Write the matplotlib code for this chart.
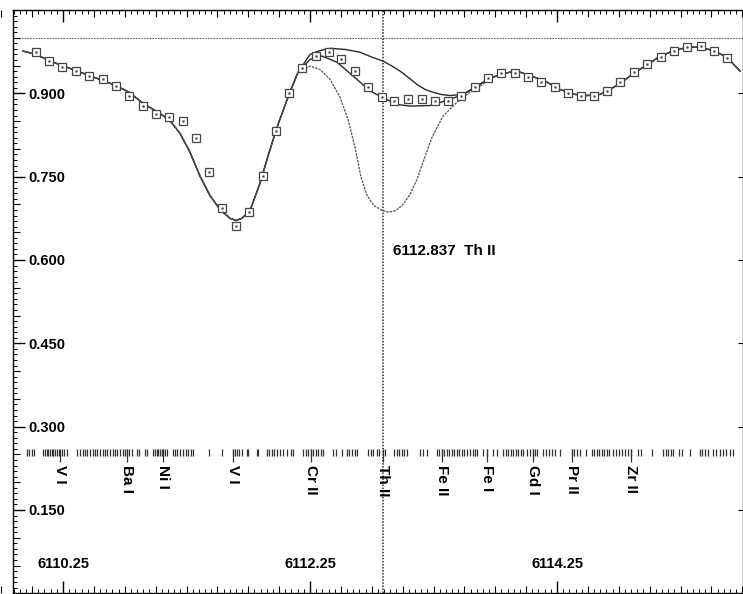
import matplotlib
matplotlib.use('Agg')
import matplotlib.pyplot as plt
import matplotlib.ticker as ticker
import matplotlib.transforms as transforms
import numpy as np

plt.rcParams['font.family'] = 'Liberation Sans'
plt.rcParams['font.size'] = 10.5
plt.rcParams['font.weight'] = 'bold'

# observed spectrum, normalised flux
obs_wl = [6110.031, 6110.137, 6110.242, 6110.355, 6110.461, 6110.574, 6110.679, 6110.784,
          6110.898, 6111.003, 6111.108, 6111.222, 6111.327, 6111.432, 6111.537, 6111.651,
          6111.756, 6111.869, 6111.975, 6112.080, 6112.185, 6112.299, 6112.404, 6112.501,
          6112.614, 6112.720, 6112.833, 6112.930, 6113.044, 6113.157, 6113.262, 6113.367,
          6113.473, 6113.586, 6113.691, 6113.797, 6113.910, 6114.015, 6114.120, 6114.234,
          6114.339, 6114.444, 6114.550, 6114.655, 6114.760, 6114.873, 6114.979, 6115.092,
          6115.197, 6115.303, 6115.416, 6115.521, 6115.627]
obs_flux = [0.974, 0.959, 0.947, 0.940, 0.931, 0.925, 0.914, 0.896,
            0.877, 0.862, 0.857, 0.851, 0.819, 0.758, 0.693, 0.662,
            0.686, 0.751, 0.833, 0.900, 0.945, 0.967, 0.974, 0.961,
            0.940, 0.911, 0.893, 0.886, 0.889, 0.889, 0.887, 0.887,
            0.896, 0.911, 0.927, 0.936, 0.936, 0.929, 0.920, 0.911,
            0.900, 0.895, 0.895, 0.905, 0.920, 0.938, 0.952, 0.965,
            0.976, 0.983, 0.985, 0.977, 0.963]

# synthetic spectra: shared wings
syn_wl_left = [6109.926, 6110.031, 6110.137, 6110.242, 6110.355, 6110.461, 6110.574, 6110.679,
               6110.784, 6110.898, 6111.003, 6111.108, 6111.197, 6111.278, 6111.359, 6111.440,
               6111.521, 6111.602, 6111.651, 6111.699, 6111.764, 6111.845, 6111.910, 6111.983,
               6112.080, 6112.153]
syn_flux_left = [0.976, 0.970, 0.959, 0.950, 0.941, 0.932, 0.923, 0.914,
                 0.902, 0.882, 0.868, 0.853, 0.828, 0.794, 0.751, 0.716,
                 0.691, 0.675, 0.671, 0.675, 0.689, 0.738, 0.787, 0.839,
                 0.898, 0.938]
syn_wl_right = [6113.489, 6113.586, 6113.691, 6113.788, 6113.869, 6113.950, 6114.031, 6114.153,
                6114.274, 6114.396, 6114.493, 6114.598, 6114.679, 6114.776, 6114.882, 6114.987,
                6115.084, 6115.189, 6115.303, 6115.408, 6115.513, 6115.627, 6115.732]
syn_flux_right = [0.898, 0.911, 0.925, 0.934, 0.938, 0.938, 0.932, 0.922,
                  0.907, 0.898, 0.896, 0.898, 0.907, 0.920, 0.938, 0.952,
                  0.967, 0.976, 0.983, 0.983, 0.977, 0.965, 0.940]

# Th II region, three trial abundances
wl_none = [6112.250, 6112.331, 6112.412, 6112.533, 6112.655, 6112.752, 6112.841, 6112.914,
           6112.979, 6113.044, 6113.116, 6113.181, 6113.246, 6113.311, 6113.384]
flux_none = [0.970, 0.977, 0.981, 0.979, 0.974, 0.965, 0.958, 0.949,
             0.940, 0.929, 0.916, 0.907, 0.902, 0.898, 0.896]
wl_best = [6112.250, 6112.347, 6112.469, 6112.631, 6112.736, 6112.833, 6112.954, 6113.060,
           6113.222, 6113.384]
flux_best = [0.961, 0.967, 0.956, 0.925, 0.904, 0.893, 0.880, 0.877,
             0.878, 0.889]
wl_high = [6112.250, 6112.331, 6112.412, 6112.493, 6112.558, 6112.614, 6112.663, 6112.712,
           6112.768, 6112.833, 6112.890, 6112.946, 6113.003, 6113.060, 6113.116, 6113.173,
           6113.238, 6113.327, 6113.440, 6113.546, 6113.651]
flux_high = [0.949, 0.943, 0.925, 0.893, 0.853, 0.803, 0.749, 0.716,
             0.698, 0.689, 0.686, 0.689, 0.700, 0.718, 0.745, 0.781,
             0.821, 0.859, 0.884, 0.902, 0.916]

# line list
line_wl = [6109.961, 6109.977, 6109.999, 6110.018, 6110.090, 6110.104, 6110.118, 6110.131,
           6110.145, 6110.159, 6110.171, 6110.185, 6110.204, 6110.220, 6110.239, 6110.258,
           6110.280, 6110.361, 6110.388, 6110.410, 6110.428, 6110.447, 6110.469, 6110.490,
           6110.509, 6110.528, 6110.550, 6110.571, 6110.593, 6110.609, 6110.631, 6110.652,
           6110.671, 6110.690, 6110.712, 6110.733, 6110.752, 6110.771, 6110.787, 6110.806,
           6110.847, 6110.868, 6110.914, 6110.928, 6110.981, 6110.995, 6111.009, 6111.022,
           6111.035, 6111.049, 6111.062, 6111.076, 6111.090, 6111.143, 6111.157, 6111.171,
           6111.197, 6111.219, 6111.246, 6111.265, 6111.284, 6111.305, 6111.435, 6111.535,
           6111.629, 6111.643, 6111.661, 6111.678, 6111.699, 6111.737, 6111.750, 6111.818,
           6111.831, 6111.904, 6111.920, 6111.942, 6111.959, 6111.980, 6112.007, 6112.034,
           6112.061, 6112.094, 6112.115, 6112.196, 6112.218, 6112.236, 6112.256, 6112.277,
           6112.299, 6112.317, 6112.337, 6112.353, 6112.439, 6112.461, 6112.507, 6112.547,
           6112.568, 6112.588, 6112.614, 6112.633, 6112.722, 6112.741, 6112.763, 6112.790,
           6112.811, 6112.860, 6112.930, 6112.952, 6112.973, 6112.993, 6113.011, 6113.033,
           6113.141, 6113.167, 6113.195, 6113.276, 6113.297, 6113.316, 6113.335, 6113.357,
           6113.378, 6113.397, 6113.416, 6113.438, 6113.459, 6113.478, 6113.497, 6113.519,
           6113.546, 6113.567, 6113.588, 6113.605, 6113.653, 6113.686, 6113.734, 6113.762,
           6113.815, 6113.837, 6113.856, 6113.875, 6113.896, 6113.918, 6113.937, 6113.956,
           6113.977, 6114.005, 6114.031, 6114.053, 6114.072, 6114.086, 6114.139, 6114.161,
           6114.188, 6114.207, 6114.234, 6114.274, 6114.369, 6114.388, 6114.414, 6114.436,
           6114.485, 6114.531, 6114.550, 6114.571, 6114.593, 6114.612, 6114.631, 6114.652,
           6114.673, 6114.706, 6114.728, 6114.754, 6114.774, 6114.801, 6114.827, 6114.847,
           6114.908, 6114.928, 6115.017, 6115.111, 6115.130, 6115.151, 6115.171, 6115.192,
           6115.240, 6115.260, 6115.327, 6115.408, 6115.427, 6115.448, 6115.475, 6115.516,
           6115.537, 6115.570, 6115.597, 6115.618, 6115.651, 6115.677]
id_wl = [6110.226, 6110.770, 6111.062, 6111.629, 6112.256, 6112.837, 6113.316, 6113.686,
         6114.053, 6114.369, 6114.847]
id_names = ['V I', 'Ba I', 'Ni I', 'V I', 'Cr II', 'Th II', 'Fe II', 'Fe I', 'Gd I', 'Pr II', 'Zr II']

th_wl = 6112.837
y_ticks = [0.15, 0.30, 0.45, 0.60, 0.75, 0.90]

fig = plt.figure(figsize=(7.43, 5.94), dpi=100)
ax = fig.add_axes([13/743, 0.0012, 730/743, 583.3/594])
ax.set_xlim(6109.845, 6115.756)
ax.set_ylim(0.0, 1.05)

ink = '#2a2a2a'

# continuum and the Th II position
ax.axhline(1.0, color='#666666', lw=0.8, ls=(0, (1.5, 1)))
ax.axvline(th_wl, color=ink, lw=1.1, ls=(0, (1, 1)))

# synthetic spectra
ax.plot(syn_wl_left + wl_none + syn_wl_right, syn_flux_left + flux_none + syn_flux_right,
        color=ink, lw=1.0)
ax.plot(syn_wl_left + wl_best + syn_wl_right, syn_flux_left + flux_best + syn_flux_right,
        color=ink, lw=1.0)
ax.plot(syn_wl_left + wl_high + syn_wl_right[2:], syn_flux_left + flux_high + syn_flux_right[2:],
        color='#555555', lw=0.9, ls=(0, (2, 0.8)))

# observations
ax.plot(obs_wl, obs_flux, 's', ms=5.5, mfc='white', mec='#444444', mew=0.9)
ax.plot(obs_wl, obs_flux, '.', ms=1.5, color='#444444')

# line identifications
ax.vlines(line_wl, 0.248, 0.259, color='#333333', lw=0.9)
ax.vlines(id_wl, 0.237, 0.259, color='#333333', lw=0.9)
for w, name in zip(id_wl, id_names):
    ax.text(w, 0.231, name, rotation=-90, ha='center', va='top', fontsize=11)
ax.text(6112.922, 0.616, '6112.837  Th II', ha='left', va='center', fontsize=11)

# axis ticks
ax.xaxis.set_major_locator(ticker.MultipleLocator(2, offset=0.25))
ax.xaxis.set_minor_locator(ticker.MultipleLocator(0.05))
ax.xaxis.set_major_formatter(ticker.FormatStrFormatter('%.2f'))
ax.yaxis.set_major_locator(ticker.FixedLocator(y_ticks))
ax.yaxis.set_minor_locator(ticker.MultipleLocator(0.01))
ax.yaxis.set_major_formatter(ticker.FormatStrFormatter('%.3f'))
ax.tick_params(axis='x', which='both', direction='in', top=True, bottom=True, pad=-26)
ax.tick_params(axis='y', which='both', direction='in', left=True, right=False, pad=-37.4)
ax.tick_params(which='major', length=8.6, width=1.0)
ax.tick_params(which='minor', length=2.9, width=0.7)

# medium ticks every 0.25 A and 0.05 in flux
tx = transforms.blended_transform_factory(ax.transData, ax.transAxes)
ty = transforms.blended_transform_factory(ax.transAxes, ax.transData)
mid_x = [w for w in np.arange(6109.75, 6115.8, 0.25) if abs((w - 6110.25) % 2) > 1e-6]
ax.plot(mid_x, [0] * len(mid_x), ls='none', marker=2, ms=5, mew=0.8, color='k',
        transform=tx, clip_on=False)
ax.plot(mid_x, [1] * len(mid_x), ls='none', marker=3, ms=5, mew=0.8, color='k',
        transform=tx, clip_on=False)
mid_y = [v for v in np.arange(0.05, 1.05, 0.05) if min(abs(v - t) for t in y_ticks) > 1e-6]
ax.plot([0] * len(mid_y), mid_y, ls='none', marker=1, ms=5, mew=0.8, color='k',
        transform=ty, clip_on=False)
ax.plot([1] * len(y_ticks), y_ticks, ls='none', marker=0, ms=3.6, mew=0.8, color='k',
        transform=ty, clip_on=False)

for s in ax.spines.values():
    s.set_linewidth(1.0)

fig.savefig('out.png', dpi=100)
